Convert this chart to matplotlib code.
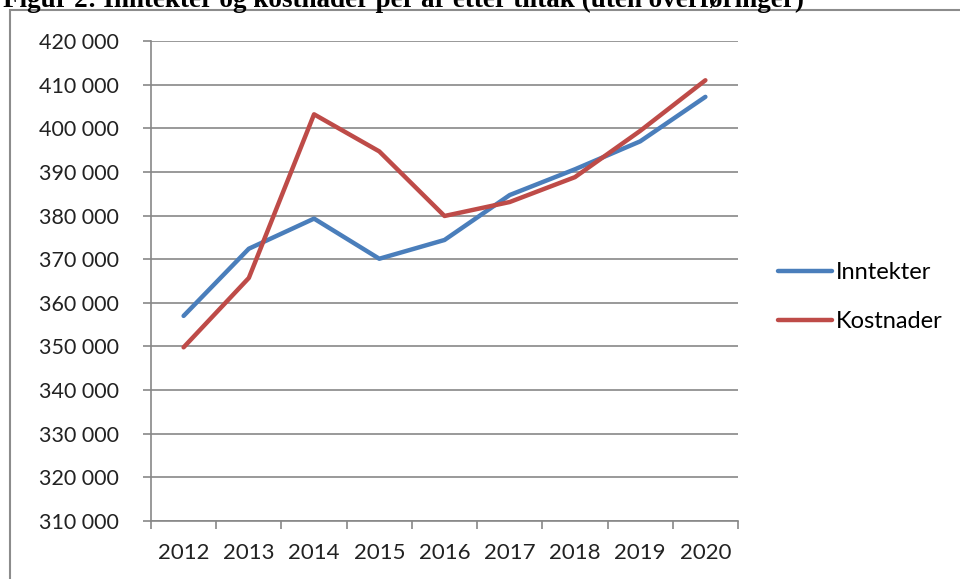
import matplotlib
matplotlib.use('Agg')
import matplotlib.pyplot as plt
from matplotlib.patches import Rectangle
from matplotlib.ticker import FuncFormatter, FixedLocator

# Values
years = ['2012', '2013', '2014', '2015', '2016', '2017', '2018', '2019', '2020']
inntekter = [357000, 372400, 379300, 370100, 374400, 384700, 390600, 397000, 407200]
kostnader = [349800, 365700, 403200, 394700, 379900, 383100, 388800, 399400, 411000]
title = 'Figur 2: Inntekter og kostnader per år etter tiltak (uten overføringer)'

blue = '#4A7EBB'
red = '#BE4B48'
grey = '#878787'

plt.rcParams['font.family'] = ['Lato', 'DejaVu Sans']

fig = plt.figure(figsize=(9.6, 5.79), dpi=100)
ax = fig.add_axes([151 / 960, 1 - 521 / 579, 587 / 960, 480 / 579])

x = list(range(len(years)))
ax.plot(x, inntekter, color=blue, lw=3.2, label='Inntekter', solid_capstyle='round')
ax.plot(x, kostnader, color=red, lw=3.2, label='Kostnader', solid_capstyle='round')

ax.set_xlim(-0.5, len(years) - 0.5)
ax.set_ylim(310000, 420000)

# y axis: gridlines every 10 000 with space as thousands separator
ax.set_yticks(range(310000, 420001, 10000))
ax.yaxis.set_major_formatter(FuncFormatter(lambda v, p: f'{int(v):,}'.replace(',', ' ')))
ax.grid(axis='y', color=grey, lw=1.2)
ax.set_axisbelow(True)

# x axis: ticks between categories, labels at the centres
ax.xaxis.set_major_locator(FixedLocator([i - 0.5 for i in range(len(years) + 1)]))
ax.xaxis.set_minor_locator(FixedLocator(x))
ax.set_xticklabels([])
ax.set_xticklabels(years, minor=True)

ax.tick_params(axis='y', length=6, width=1.2, color=grey, pad=17, labelsize=15.5, labelcolor='#222222')
ax.tick_params(axis='x', which='major', length=6, width=1.2, color=grey)
ax.tick_params(axis='x', which='minor', length=0, pad=16, labelsize=16, labelcolor='#222222')

for side in ['top', 'right']:
    ax.spines[side].set_visible(False)
for side in ['left', 'bottom']:
    ax.spines[side].set_color(grey)
    ax.spines[side].set_linewidth(1.2)

leg = ax.legend(loc='center left', bbox_to_anchor=(1.032, 0.466), frameon=False,
                fontsize=17, handlelength=2.3, handletextpad=0.17, labelspacing=1.2)

# outer chart frame and cut-off caption
fig.patches.append(Rectangle((10 / 960, -0.1), 1.2, 1 - 10 / 579 + 0.1,
                             transform=fig.transFigure, fill=False, ec='#8c8c8c', lw=1.5))
fig.text(3 / 960, 1 - 7 / 579, title, family='Liberation Serif', weight='bold',
         fontsize=19.5, va='baseline', ha='left')

fig.savefig('out.png', dpi=100)
